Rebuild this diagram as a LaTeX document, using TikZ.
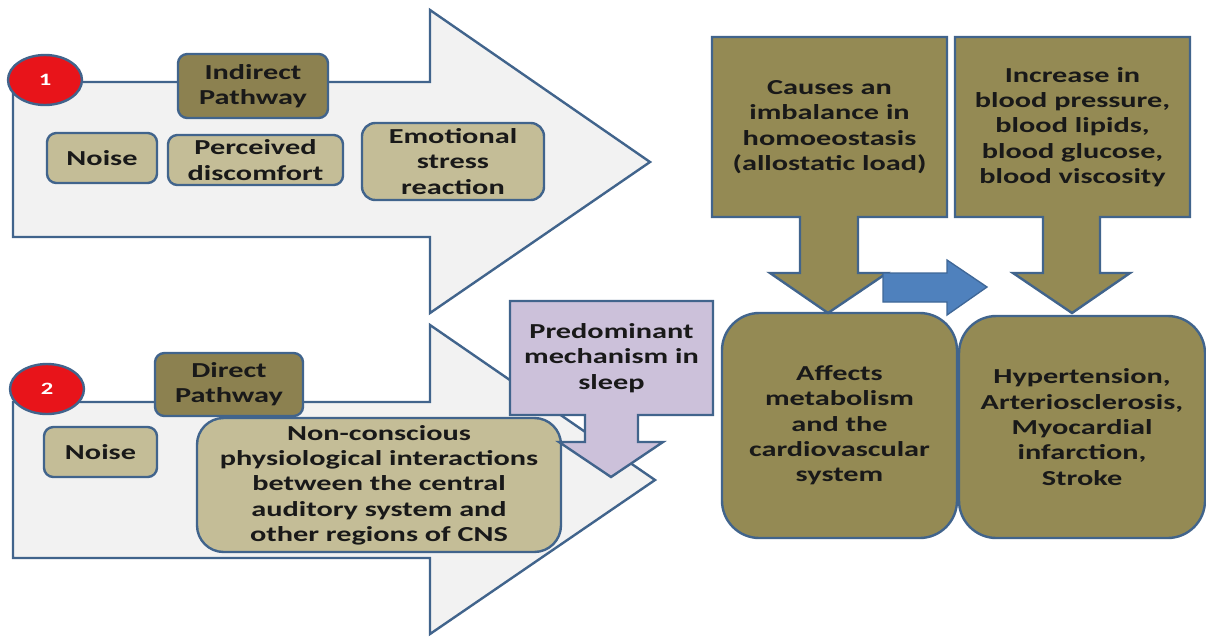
\documentclass[tikz,border=0pt]{standalone}
\usepackage{fontspec}
\setmainfont{Carlito}[FakeStretch=1.42]
\usetikzlibrary{shapes.geometric}
\definecolor{bord}{HTML}{41648C}
\definecolor{lightg}{HTML}{F2F2F2}
\definecolor{tanc}{HTML}{C4BD97}
\definecolor{olive}{HTML}{948A54}
\definecolor{oliveD}{HTML}{8C8150}
\definecolor{lav}{HTML}{CCC1DA}
\definecolor{bluea}{HTML}{4F81BD}
\definecolor{redc}{HTML}{E8141A}
\newcommand\dfont{\fontsize{16}{19}\selectfont\bfseries}
\begin{document}
\begin{tikzpicture}[x=0.75pt,y=-0.75pt,
  shp/.style={draw=bord,line width=1.8pt,line join=miter},
  tbox/.style={draw=bord,line width=1.8pt,fill=tanc,rounded corners=7pt,inner sep=0pt,align=center,font=\dfont,text=black!90},
  obox/.style={tbox,fill=oliveD},
  bigbox/.style={draw=bord,line width=1.8pt,fill=olive,rounded corners=28pt,inner sep=0pt,align=center,font=\dfont,text=black!90},
  txt/.style={inner sep=0pt,align=center,font=\dfont,text=black!90},
  num/.style={ellipse,draw=bord,line width=1.8pt,fill=redc,minimum width=55.5pt,minimum height=37.5pt,inner sep=0pt,text=white,font=\fontsize{13}{15}\selectfont\bfseries}]
\useasboundingbox (0,0) rectangle (1206,636);
\fill[white] (0,0) rectangle (1206,636);

% big arrow 1
\draw[shp,fill=lightg] (13,82) -- (430,82) -- (430,10) -- (650,162) -- (430,313) -- (430,237) -- (13,237) -- cycle;
% big arrow 2
\draw[shp,fill=lightg] (13,402) -- (430,402) -- (430,325) -- (655,480) -- (430,634) -- (430,558) -- (13,558) -- cycle;

% pathway 1 nodes
\node[num] (c1) at (45,80) {1};
\node[obox,minimum width=112.5pt,minimum height=48pt] (ind) at (253,86) {Indirect\\Pathway};
\node[tbox,minimum width=82.5pt,minimum height=37.5pt] (noise1) at (102,158) {Noise};
\node[tbox,minimum width=131.25pt,minimum height=37.5pt] (perc) at (255.5,160) {Perceived\\discomfort};
\node[tbox,rounded corners=10pt,minimum width=136.5pt,minimum height=57.75pt] (emo) at (453,161.5) {Emotional\\stress\\reaction};

% pathway 2 nodes
\node[num] (c2) at (47,389) {2};
\node[obox,minimum width=111pt,minimum height=47.25pt] (dir) at (229,384.5) {Direct\\Pathway};
\node[tbox,minimum width=84.75pt,minimum height=37.5pt] (noise2) at (100.5,452) {Noise};
\node[tbox,rounded corners=20pt,minimum width=273pt,minimum height=100.5pt] (noncon) at (379,485) {Non-conscious\\physiological interactions\\between the central\\auditory system and\\other regions of CNS};

% predominant mechanism down arrow
\draw[shp,fill=lav] (510,301) -- (713,301) -- (713,415) -- (638,415) -- (638,442) -- (663,442) -- (611,477) -- (559,442) -- (585,442) -- (585,415) -- (510,415) -- cycle;
\node[txt] (pred) at (611.5,358) {Predominant\\mechanism in\\sleep};

% right side boxes
\node[bigbox,minimum width=176.25pt,minimum height=168.75pt] (aff) at (839.5,425.5) {Affects\\metabolism\\and the\\cardiovascular\\system};
\node[bigbox,minimum width=184.5pt,minimum height=166.5pt] (hyp) at (1082,427) {Hypertension,\\Arteriosclerosis,\\Myocardial\\infarction,\\Stroke};

% causes down arrow
\draw[shp,fill=olive] (712,37) -- (947,37) -- (947,217) -- (858,217) -- (858,273) -- (887,273) -- (828,313) -- (770,273) -- (800,273) -- (800,217) -- (712,217) -- cycle;
\node[txt] (cause) at (829.5,127) {Causes an\\imbalance in\\homoeostasis\\(allostatic load)};

% increase down arrow
\draw[shp,fill=olive] (955,37) -- (1190,37) -- (1190,217) -- (1100,217) -- (1100,273) -- (1130,273) -- (1072,313) -- (1013,273) -- (1043,273) -- (1043,217) -- (955,217) -- cycle;
\node[txt] (incr) at (1072.5,127) {Increase in\\blood pressure,\\blood lipids,\\blood glucose,\\blood viscosity};

% blue right arrow
\draw[draw=bluea!80!black,line width=1pt,fill=bluea] (883,273) -- (947,273) -- (947,260) -- (987,287) -- (947,315) -- (947,302) -- (883,302) -- cycle;
\end{tikzpicture}
\end{document}
